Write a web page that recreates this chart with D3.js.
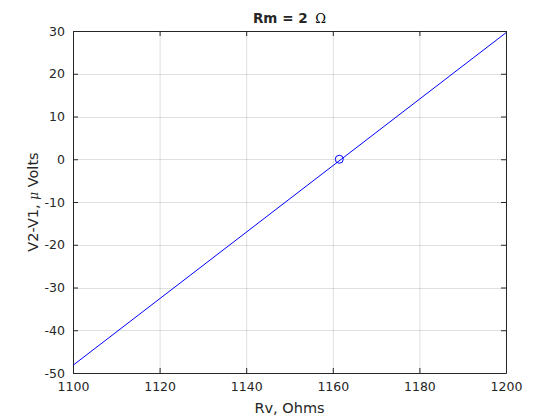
<!DOCTYPE html>
<meta charset="utf-8">
<style>
body { margin:0; background:#fff; }
text { font-family: "DejaVu Sans", sans-serif; fill:#262626; }
</style>
<div id="chart"></div>
<script src="https://cdn.jsdelivr.net/npm/d3@7"></script>
<script>
// measured line (two end points) and the zero-crossing marker
var rv = [1100, 1200]
var dv = [-48.2, 29.6]
var markRv = [1161.5]
var markDv = [0]
var xTicks = [1100, 1120, 1140, 1160, 1180, 1200]
var yTicks = [-50, -40, -30, -20, -10, 0, 10, 20, 30]

var width = 560, height = 420
var m = {top: 31, left: 73, right: 54, bottom: 47}
var w = width - m.left - m.right, h = height - m.top - m.bottom

var svg = d3.select("#chart").append("svg")
  .attr("width", width).attr("height", height)

var x = d3.scaleLinear().domain([1100, 1200]).range([m.left, m.left + w])
var y = d3.scaleLinear().domain([-50, 30]).range([m.top + h, m.top])

// grid
var grid = svg.append("g").attr("stroke", "#262626").attr("stroke-opacity", 0.15)
grid.selectAll(".gx").data(xTicks.slice(1, -1)).enter().append("line")
  .attr("x1", d => x(d) + .5).attr("x2", d => x(d) + .5)
  .attr("y1", m.top).attr("y2", m.top + h)
grid.selectAll(".gy").data(yTicks.slice(1, -1)).enter().append("line")
  .attr("y1", d => Math.round(y(d)) + .5).attr("y2", d => Math.round(y(d)) + .5)
  .attr("x1", m.left).attr("x2", m.left + w)

// axes (ticks inward, MATLAB style)
var tk = 5
var fmt = d => String(d)
svg.append("g").attr("transform", "translate(0," + (m.top + h) + ")")
  .call(d3.axisBottom(x).tickValues(xTicks).tickSizeInner(-tk).tickSizeOuter(0).tickPadding(9).tickFormat(fmt))
svg.append("g").attr("transform", "translate(0," + m.top + ")")
  .call(d3.axisTop(x).tickValues(xTicks).tickSizeInner(-tk).tickSizeOuter(0).tickFormat(""))
svg.append("g").attr("transform", "translate(" + m.left + ",0)")
  .call(d3.axisLeft(y).tickValues(yTicks).tickSizeInner(-tk).tickSizeOuter(0).tickPadding(8).tickFormat(fmt))
svg.append("g").attr("transform", "translate(" + (m.left + w) + ",0)")
  .call(d3.axisRight(y).tickValues(yTicks).tickSizeInner(-tk).tickSizeOuter(0).tickFormat(""))

svg.selectAll(".domain, .tick line").attr("stroke", "#262626")
svg.selectAll(".tick text").attr("font-size", 12.5).attr("fill", "#262626")
  .attr("font-family", "DejaVu Sans")

// data line
svg.append("path")
  .datum(d3.zip(rv, dv))
  .attr("fill", "none").attr("stroke", "#0000ff").attr("stroke-width", 1)
  .attr("d", d3.line().x(d => x(d[0])).y(d => y(d[1])))

svg.selectAll(".mk").data(d3.zip(markRv, markDv)).enter().append("circle")
  .attr("cx", d => x(d[0])).attr("cy", d => y(d[1])).attr("r", 4)
  .attr("fill", "none").attr("stroke", "#0000ff").attr("stroke-width", 1)

// labels
var t = svg.append("text").attr("x", m.left + w / 2).attr("y", 23)
  .attr("text-anchor", "middle").attr("font-size", 13.5).attr("fill", "#000")
t.append("tspan").attr("font-weight", "bold").text("Rm = 2 ")
t.append("tspan").attr("dx", 3).attr("font-family", "DejaVu Serif").attr("font-size", 13).attr("fill", "#000").text("\u03a9")

svg.append("text").attr("x", m.left + w / 2).attr("y", 413)
  .attr("text-anchor", "middle").attr("font-size", 14.5).text("Rv, Ohms")

var yl = svg.append("text").attr("transform", "translate(38," + (m.top + h / 2) + ") rotate(-90)")
  .attr("text-anchor", "middle").attr("font-size", 14.5)
yl.append("tspan").text("V2-V1, ")
yl.append("tspan").attr("font-family", "DejaVu Serif").attr("font-style", "italic").attr("font-size", 12).text("\u03bc")
yl.append("tspan").text(" Volts")
</script>
